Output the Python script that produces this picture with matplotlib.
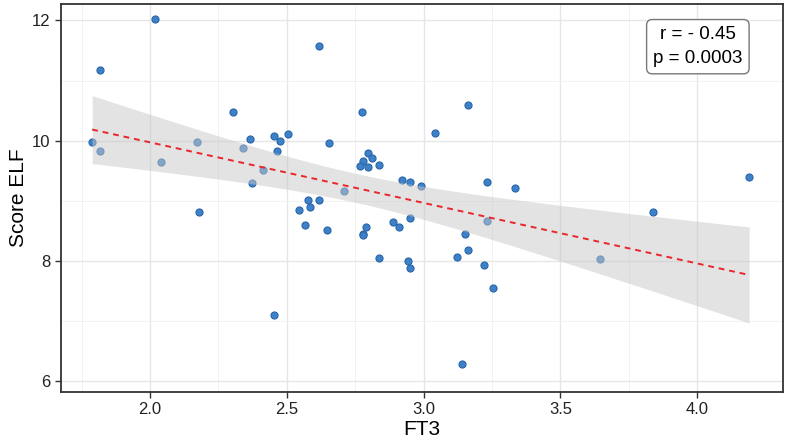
import matplotlib
matplotlib.use('Agg')
import matplotlib.pyplot as plt
import numpy as np

plt.rcParams['font.family'] = ['Liberation Sans', 'DejaVu Sans']

# FT3 values (x) and Score ELF values (y)
ft3 = [2.018, 1.816, 1.789, 1.817, 2.039, 2.172, 2.303, 2.364, 2.342, 2.373,
       2.180, 2.412, 2.453, 2.453, 2.475, 2.506, 2.466, 2.656, 2.776, 2.798,
       2.811, 2.778, 2.768, 2.798, 2.838, 2.708, 2.578, 2.618, 2.546, 2.586,
       2.567, 2.646, 2.790, 2.778, 2.778, 2.838, 2.617, 3.162, 3.041, 2.920,
       2.949, 2.991, 3.233, 3.333, 2.890, 2.910, 2.949, 3.232, 3.153, 3.162,
       3.121, 2.942, 2.951, 3.222, 3.254, 3.142, 4.190, 3.839, 3.644]
elf = [12.03, 11.18, 9.98, 9.82, 9.65, 9.97, 10.47, 10.03, 9.88, 9.30,
       8.81, 9.52, 7.10, 10.08, 10.00, 10.11, 9.82, 9.96, 10.48, 9.79,
       9.72, 9.66, 9.58, 9.56, 9.59, 9.17, 9.01, 9.02, 8.85, 8.89,
       8.59, 8.51, 8.56, 8.45, 8.43, 8.05, 11.58, 10.59, 10.13, 9.34,
       9.32, 9.24, 9.32, 9.21, 8.65, 8.57, 8.71, 8.67, 8.45, 8.19,
       8.07, 8.00, 7.89, 7.94, 7.55, 6.29, 9.39, 8.82, 8.03]

stats_text = 'r = - 0.45\np = 0.0003'

x = np.array(ft3)
y = np.array(elf)

# linear fit with 95% confidence band (like geom_smooth(method="lm"))
n = len(x)
slope, intercept = np.polyfit(x, y, 1)
resid = y - (slope * x + intercept)
s = np.sqrt(np.sum(resid ** 2) / (n - 2))
sxx = np.sum((x - x.mean()) ** 2)
t_crit = 2.002  # t(0.975, df=57)
xs = np.linspace(x.min(), x.max(), 100)
ys = slope * xs + intercept
se = s * np.sqrt(1 / n + (xs - x.mean()) ** 2 / sxx)

fig = plt.figure(figsize=(7.87, 4.46), dpi=100)
ax = fig.add_axes([0.0775, 0.121, 0.9175, 0.871])

ax.scatter(x, y, s=26, color='#3d82c8', edgecolor='#2a64a8', linewidth=0.8, zorder=3)
ax.fill_between(xs, ys - t_crit * se, ys + t_crit * se, color='#c8c8c8', alpha=0.5,
                linewidth=0, zorder=4)
ax.plot(xs, ys, '--', color='#e8262b', linewidth=1.4, dashes=(3, 2.5), zorder=5)

ax.set_xlim(1.675, 4.314)
ax.set_ylim(5.82, 12.28)
ax.set_xticks([2.0, 2.5, 3.0, 3.5, 4.0])
ax.set_xticks([1.75, 2.25, 2.75, 3.25, 3.75], minor=True)
ax.set_yticks([6, 8, 10, 12])
ax.set_yticks([7, 9, 11], minor=True)
ax.grid(True, which='major', color='#e6e6e6', linewidth=1.0, zorder=0)
ax.grid(True, which='minor', color='#f2f2f2', linewidth=0.7, zorder=0)
ax.set_axisbelow(True)

ax.tick_params(which='major', length=4, width=1, color='#333333', labelsize=12,
               labelcolor='#222222')
ax.tick_params(which='minor', length=0)
for sp in ax.spines.values():
    sp.set_color('#333333')
    sp.set_linewidth(1.3)

ax.set_xlabel('FT3', fontsize=15, labelpad=2)
ax.set_ylabel('Score ELF', fontsize=15, labelpad=3)

ax.text(0.882, 0.942, stats_text, transform=ax.transAxes, ha='center', va='top',
        fontsize=13.5, linespacing=1.55,
        bbox=dict(boxstyle='round,pad=0.35,rounding_size=0.3', facecolor='white',
                  edgecolor='#777777', linewidth=1))

plt.savefig('out.png', dpi=100)
